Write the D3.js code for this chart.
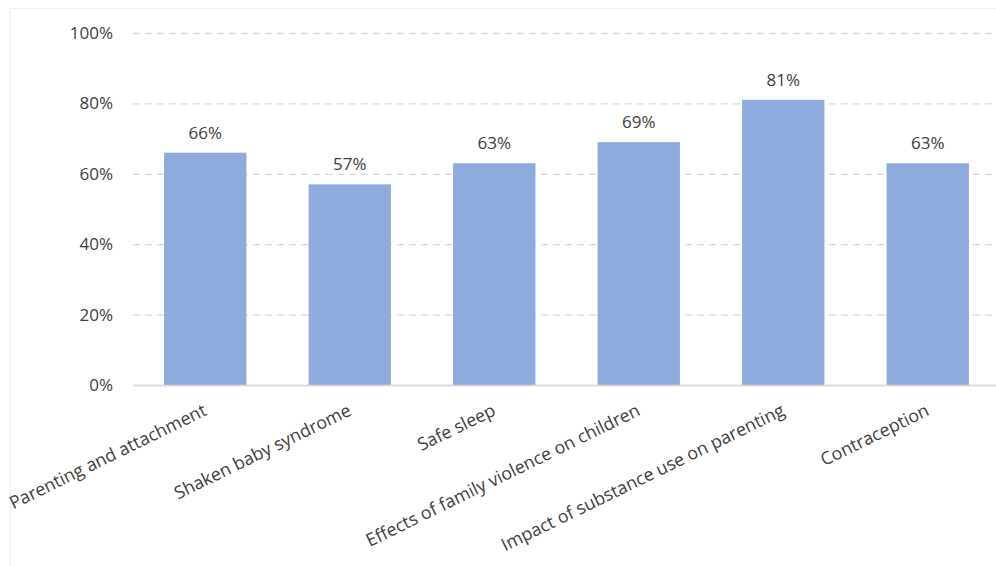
<!DOCTYPE html>
<html>
<head>
<meta charset="utf-8">
<script src="https://cdn.jsdelivr.net/npm/d3@7"></script>
<style>
  html, body { margin: 0; padding: 0; background: #fff; }
  svg { display: block; }
  text { font-family: "Open Sans", "Noto Sans", sans-serif; fill: #404040; }
</style>
</head>
<body>
<svg id="chart" width="996" height="566"></svg>
<script>
// Share of respondents per topic
const categories = [
  "Parenting and attachment",
  "Shaken baby syndrome",
  "Safe sleep",
  "Effects of family violence on children",
  "Impact of substance use on parenting",
  "Contraception"
];
const values = [0.66, 0.57, 0.63, 0.69, 0.81, 0.63];
const yTicks = [0, 0.2, 0.4, 0.6, 0.8, 1.0];

const W = 996, H = 566;
const plot = { left: 133, right: 1000, top: 33, bottom: 385 };

const svg = d3.select("#chart");

// light outer frame of the chart area
svg.append("rect")
  .attr("x", 10.5).attr("y", 8.5)
  .attr("width", 1000).attr("height", 600)
  .attr("fill", "none").attr("stroke", "#eeeeee");

const x = d3.scaleBand()
  .domain(categories)
  .range([plot.left, plot.right])
  .paddingInner(0.43)
  .paddingOuter(0.215);

const y = d3.scaleLinear()
  .domain([0, 1])
  .range([plot.bottom, plot.top]);

const fmt = d3.format(".0%");

// gridlines and y tick labels
const yAxis = d3.axisLeft(y)
  .tickValues(yTicks)
  .tickFormat(fmt)
  .tickSize(-(plot.right - plot.left))
  .tickPadding(20);

const gy = svg.append("g")
  .attr("transform", `translate(${plot.left},0)`)
  .call(yAxis);
gy.select(".domain").remove();
gy.selectAll(".tick line")
  .attr("stroke", "#d9d9d9")
  .attr("stroke-width", 1.3)
  .attr("stroke-dasharray", d => d === 0 ? null : "7,5");
gy.selectAll(".tick text")
  .attr("font-size", 17)
  .style("fill", "#404040");

// bars
svg.append("g").selectAll("rect")
  .data(values)
  .join("rect")
  .attr("x", (d, i) => x(categories[i]))
  .attr("y", d => y(d))
  .attr("width", x.bandwidth())
  .attr("height", d => y(0) - y(d))
  .attr("fill", "#8faadc");

// baseline axis line
svg.append("line")
  .attr("x1", plot.left).attr("x2", plot.right)
  .attr("y1", y(0) + 0.5).attr("y2", y(0) + 0.5)
  .attr("stroke", "#d9d9d9").attr("stroke-width", 1.5);

// value labels above bars
svg.append("g").selectAll("text")
  .data(values)
  .join("text")
  .attr("x", (d, i) => x(categories[i]) + x.bandwidth() / 2)
  .attr("y", d => y(d) - 14)
  .attr("text-anchor", "middle")
  .attr("font-size", 17)
  .text(d => fmt(d));

// rotated category labels
const xAxis = d3.axisBottom(x).tickSize(0).tickPadding(0);
const gx = svg.append("g")
  .attr("transform", `translate(0,${plot.bottom})`)
  .call(xAxis);
gx.select(".domain").remove();
gx.selectAll(".tick text")
  .attr("font-size", 17.8)
  .attr("text-anchor", "end")
  .attr("x", 0).attr("y", 0).attr("dy", "0.72em")
  .attr("transform", "translate(-3,18) rotate(-26)")
  .style("fill", "#404040");
</script>
</body>
</html>
